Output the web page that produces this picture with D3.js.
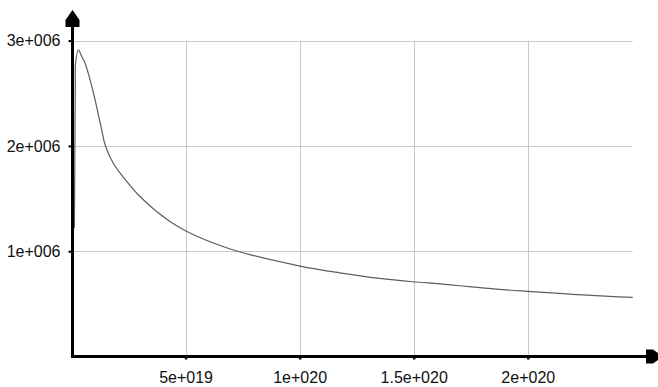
<!DOCTYPE html>
<html>
<head>
<meta charset="utf-8">
<script src="https://cdn.jsdelivr.net/npm/d3@7/dist/d3.min.js"></script>
<style>
  html, body { margin: 0; padding: 0; background: #fff; }
  svg { display: block; }
  .tick text { font-family: "Liberation Sans", Arial, sans-serif; font-size: 16px; fill: #111; }
</style>
</head>
<body>
<svg id="chart" width="658" height="387"></svg>
<script>
// Curve samples: x position and value
const xValues = [
  1.27e18, 1.67e18, 1.75e18, 2.98e18, 4.60e18, 5.92e18, 8.85e18, 11.05e18,
  13.24e18, 14.38e18, 15.56e18, 16.88e18, 19.07e18, 21.26e18, 23.45e18, 26.96e18,
  30.03e18, 35.73e18, 44.49e18, 50.19e18, 57.78e18, 72.42e18, 100.2e18, 117.5e18,
  135.1e18, 149.7e18, 161.3e18, 170.1e18, 186.2e18, 199.8e18, 213.9e18, 224.1e18,
  235.8e18, 246.0e18
];
const yValues = [
  1.220e6, 2.607e6, 2.778e6, 2.911e6, 2.844e6, 2.787e6, 2.569e6, 2.369e6,
  2.151e6, 2.037e6, 1.961e6, 1.895e6, 1.809e6, 1.743e6, 1.681e6, 1.591e6,
  1.519e6, 1.406e6, 1.263e6, 1.192e6, 1.116e6, 1.002e6, 0.859e6, 0.795e6,
  0.742e6, 0.710e6, 0.690e6, 0.672e6, 0.640e6, 0.619e6, 0.599e6, 0.585e6,
  0.571e6, 0.562e6
];

const xTicks = [5e19, 1e20, 1.5e20, 2e20];
const xTickLabels = ["5e+019", "1e+020", "1.5e+020", "2e+020"];
const yTicks = [1e6, 2e6, 3e6];
const yTickLabels = ["1e+006", "2e+006", "3e+006"];

const svg = d3.select("#chart");

const x = d3.scaleLinear().domain([0, 2.46e20]).range([71.5, 632.7]);
const y = d3.scaleLinear().domain([0, 3e6]).range([356.5, 40.6]);

const x0 = x(0), y0 = y(0);
const xEnd = x.range()[1], yTop = y(3e6);

// Grid
const grid = svg.append("g").attr("stroke", "#c8c8c8").attr("stroke-width", 1);
grid.selectAll("line.h").data(yTicks).join("line")
  .attr("x1", x0).attr("x2", xEnd)
  .attr("y1", d => Math.round(y(d)) + 0.5).attr("y2", d => Math.round(y(d)) + 0.5);
grid.selectAll("line.v").data(xTicks).join("line")
  .attr("y1", yTop).attr("y2", y0)
  .attr("x1", d => Math.round(x(d)) + 0.5).attr("x2", d => Math.round(x(d)) + 0.5);

// Curve
const line = d3.line()
  .x((d, i) => x(xValues[i]))
  .y(d => y(d))
  .curve(d3.curveCatmullRom.alpha(0.5));
svg.append("path")
  .datum(yValues)
  .attr("d", line)
  .attr("fill", "none")
  .attr("stroke", "#5e5e5e")
  .attr("stroke-width", 1.2);

// Axes with tick labels
const yAxis = d3.axisLeft(y)
  .tickValues(yTicks)
  .tickFormat((d, i) => yTickLabels[i])
  .tickSize(3)
  .tickPadding(8);
const yg = svg.append("g").attr("transform", `translate(${x0},0)`).call(yAxis);
yg.select(".domain").remove();
yg.selectAll(".tick line").attr("stroke", "#000").attr("stroke-width", 2);

const xAxis = d3.axisBottom(x)
  .tickValues(xTicks)
  .tickFormat((d, i) => xTickLabels[i])
  .tickSize(3)
  .tickPadding(12);
const xg = svg.append("g").attr("transform", `translate(0,${y0})`).call(xAxis);
xg.select(".domain").remove();
xg.selectAll(".tick line").attr("stroke", "#000").attr("stroke-width", 2.5);

// Axis lines with arrow heads
const ax = svg.append("g").attr("fill", "#000").attr("stroke", "#000");
ax.append("line")
  .attr("x1", x0 + 1).attr("x2", x0 + 1)
  .attr("y1", y0 + 1.5).attr("y2", 22)
  .attr("stroke-width", 3);
ax.append("line")
  .attr("x1", x0 - 0.5).attr("x2", 650)
  .attr("y1", y0).attr("y2", y0)
  .attr("stroke-width", 3);
ax.append("path")
  .attr("stroke", "none")
  .attr("d", `M${x0 + 1},10 L${x0 - 6},20 L${x0 - 6},27 L${x0 + 8},27 L${x0 + 8},20 Z`);
ax.append("path")
  .attr("stroke", "none")
  .attr("d", `M646,${y0 - 7} L653,${y0 - 7} L663,${y0} L653,${y0 + 7} L646,${y0 + 7} Z`);
</script>
</body>
</html>
